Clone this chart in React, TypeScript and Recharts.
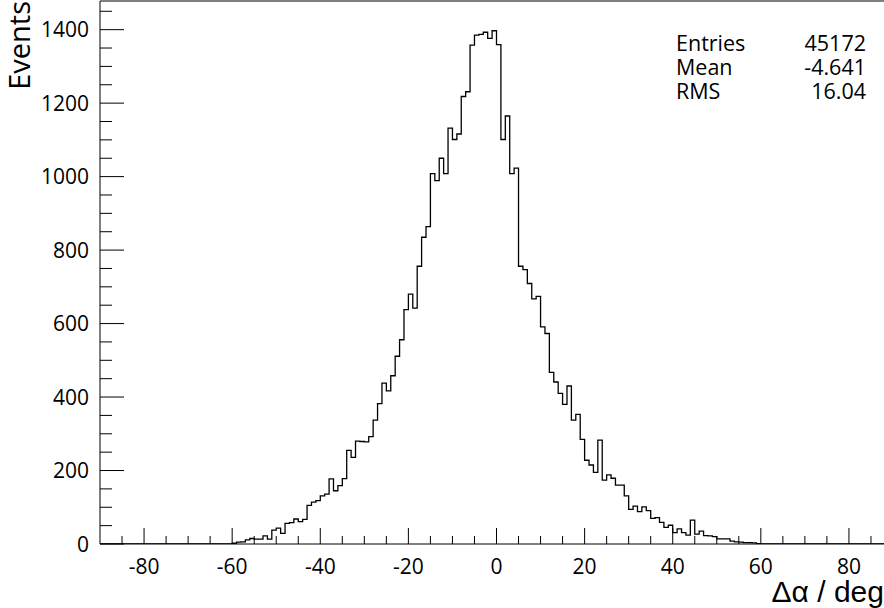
import React from 'react';
import { LineChart, Line, XAxis, YAxis, ReferenceLine } from 'recharts';

// bin contents, 1 deg wide bins, first listed bin starts at -60 deg
const firstBin = -60;
const counts = [
  2, 5, 6, 11, 15, 13, 13, 22, 13, 38,
  43, 29, 56, 58, 68, 61, 67, 105, 114, 118,
  131, 136, 177, 145, 159, 178, 255, 236, 280, 279,
  278, 292, 337, 382, 438, 417, 458, 511, 556, 638,
  680, 642, 756, 835, 864, 1008, 989, 1050, 1008, 1132,
  1101, 1116, 1218, 1231, 1358, 1385, 1387, 1393, 1376, 1397,
  1359, 1101, 1165, 1008, 1023, 756, 747, 709, 667, 674,
  591, 573, 467, 441, 410, 380, 430, 337, 353, 285,
  228, 215, 195, 283, 174, 188, 179, 160, 160, 131,
  94, 103, 88, 101, 91, 70, 72, 59, 45, 51,
  31, 41, 31, 24, 65, 27, 35, 23, 22, 20,
  14, 14, 14, 8, 6, 5, 4, 4, 3, 1,
];

const xRange = [-90, 90];
const yRange = [0, 1478];
const xLabels = [-80, -60, -40, -20, 0, 20, 40, 60, 80];
const yLabels = [0, 200, 400, 600, 800, 1000, 1200, 1400];

const statNames = ['Entries', 'Mean', 'RMS'];
const statValues = ['45172', '-4.641', '16.04'];

const xTicks: number[] = [];
for (let v = -85; v <= 85; v += 5) xTicks.push(v);
const yTicks: number[] = [];
for (let v = 0; v <= 1450; v += 50) yTicks.push(v);

const data: { x: number; n: number }[] = [];
for (let k = xRange[0]; k <= xRange[1]; k++) {
  const i = k - firstBin;
  data.push({ x: k, n: i >= 0 && i < counts.length ? counts[i] : 0 });
}

const labelFont = '"Open Sans", sans-serif';

const XTick = ({ x, y, payload }: any) => {
  const major = xLabels.includes(payload.value);
  return (
    <g>
      <line x1={x} x2={x} y1={y} y2={y - (major ? 16 : 8)} stroke="#000" />
      {major && (
        <text x={x} y={y + 30} textAnchor="middle" fontSize={21} fontFamily={labelFont} fill="#000">
          {payload.value}
        </text>
      )}
    </g>
  );
};

const YTick = ({ x, y, payload }: any) => {
  const major = yLabels.includes(payload.value);
  return (
    <g>
      <line x1={x} x2={x + (major ? 24 : 12)} y1={y} y2={y} stroke="#000" />
      {major && (
        <text x={x - 11} y={y} dy="0.36em" textAnchor="end" fontSize={21} fontFamily={labelFont} fill="#000">
          {payload.value}
        </text>
      )}
    </g>
  );
};

export default function App() {
  return (
    <div style={{ position: 'absolute', left: 0, top: 0, width: 884, height: 608, overflow: 'hidden', background: '#fff' }}>
      <LineChart width={900} height={608} data={data} margin={{ top: 1, right: 7, bottom: 0, left: 0 }}>
        <XAxis
          dataKey="x"
          type="number"
          domain={xRange}
          ticks={xTicks}
          interval={0}
          height={64}
          tickSize={0}
          tickMargin={0}
          tickLine={false}
          tick={<XTick />}
          axisLine={{ stroke: '#000' }}
          allowDataOverflow
        />
        <YAxis
          type="number"
          domain={yRange}
          ticks={yTicks}
          interval={0}
          width={100}
          tickSize={0}
          tickMargin={0}
          tickLine={false}
          tick={<YTick />}
          axisLine={{ stroke: '#000' }}
          allowDataOverflow
        />
        <ReferenceLine y={yRange[1]} stroke="#000" />
        <ReferenceLine x={xRange[1]} stroke="#000" />
        <Line
          type="stepAfter"
          dataKey="n"
          stroke="#000"
          strokeWidth={1.3}
          dot={false}
          isAnimationActive={false}
        />
      </LineChart>
      <svg width={884} height={608} style={{ position: 'absolute', left: 0, top: 0, pointerEvents: 'none' }}>
        <text transform="translate(30,1) rotate(-90)" textAnchor="end" fontSize={29} fontFamily={labelFont} fill="#000">
          Events
        </text>
        <text x={884} y={602} textAnchor="end" fontSize={30} fontFamily='"Liberation Sans", sans-serif' fill="#000">
          Δα / deg
        </text>
        {statNames.map((name, i) => (
          <g key={name}>
            <text x={676} y={51 + i * 24} fontSize={21.5} fontFamily={labelFont} fill="#000">
              {name}
            </text>
            <text x={866} y={51 + i * 24} textAnchor="end" fontSize={21.5} fontFamily={labelFont} fill="#000">
              {statValues[i]}
            </text>
          </g>
        ))}
      </svg>
    </div>
  );
}
